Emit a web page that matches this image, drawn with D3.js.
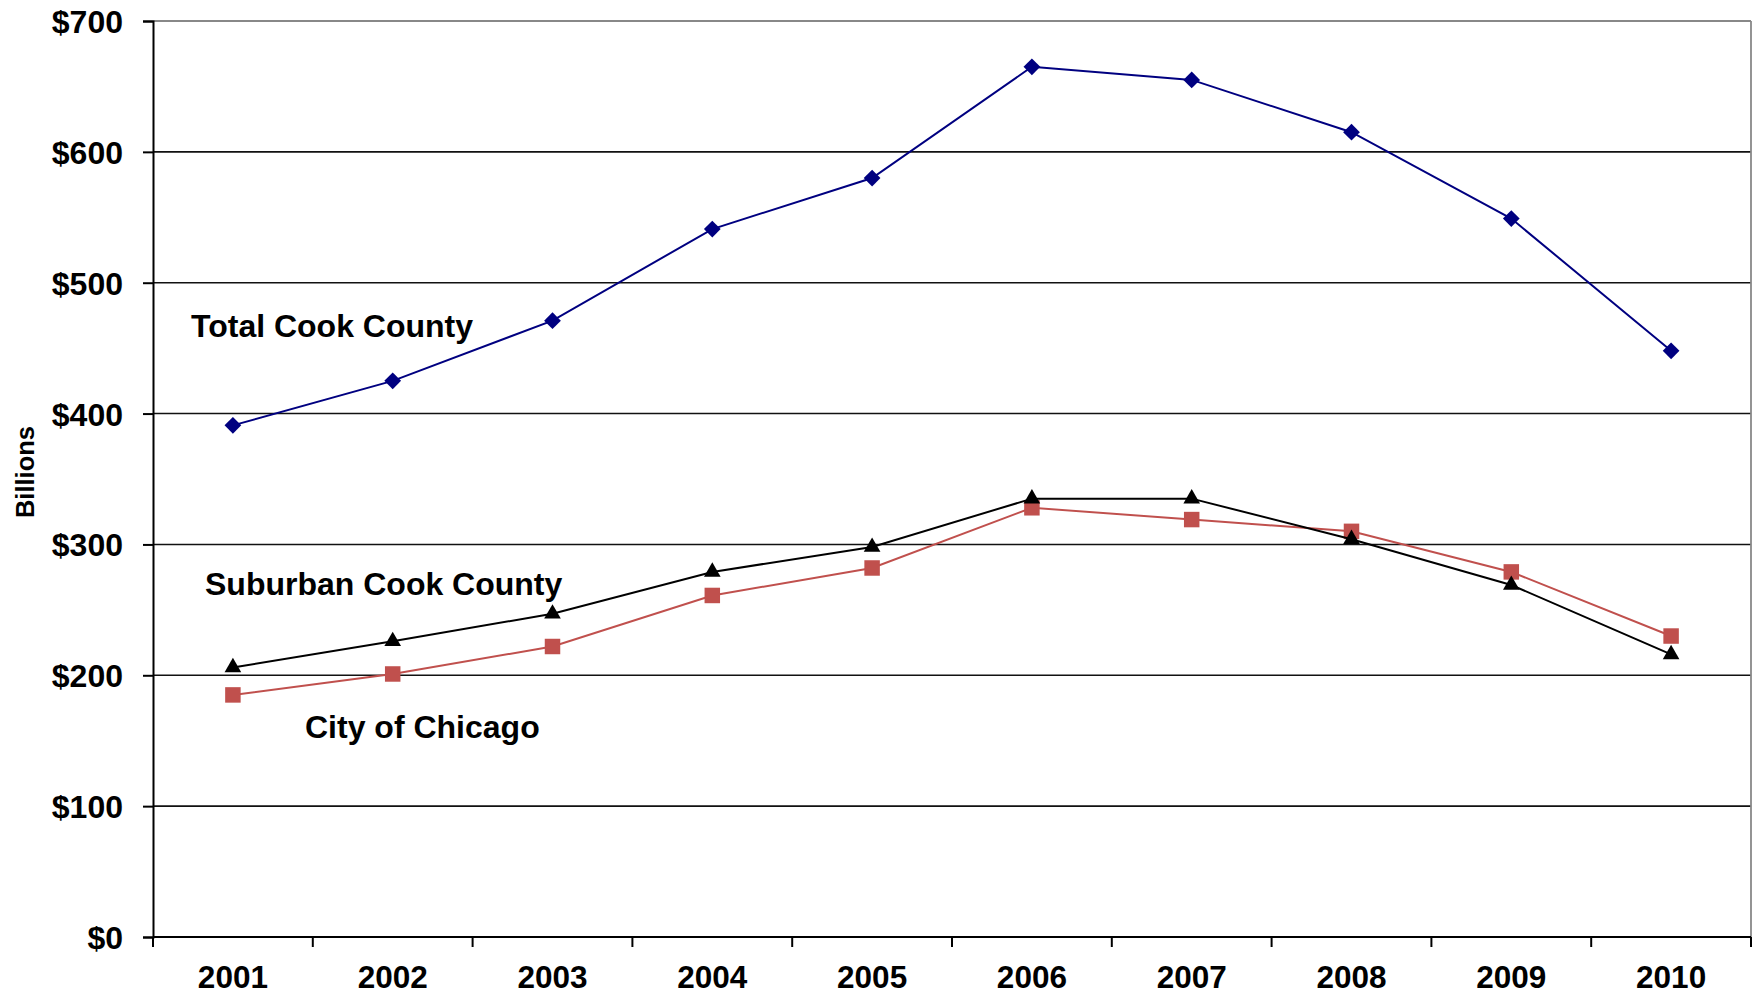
<!DOCTYPE html>
<html>
<head>
<meta charset="utf-8">
<script src="https://cdn.jsdelivr.net/npm/d3@7"></script>
<style>
  html, body { margin: 0; padding: 0; background: #fff; }
  svg { display: block; }
  text { font-family: "Liberation Sans", Arial, sans-serif; font-weight: bold; fill: #000; }
</style>
</head>
<body>
<svg id="chart" width="1752" height="997"></svg>
<script>
// ---- data ----
const years = ["2001","2002","2003","2004","2005","2006","2007","2008","2009","2010"];
const totalCook = [391, 425, 471, 541, 580, 665, 655, 615, 549, 448];
const suburbanCook = [206, 226, 247, 279, 298, 335, 335, 304, 269, 216];
const cityChicago = [185, 201, 222, 261, 282, 328, 319, 310, 279, 230];
const yTicks = [0, 100, 200, 300, 400, 500, 600, 700];
const seriesLabels = ["Total Cook County", "Suburban Cook County", "City of Chicago"];
const axisTitle = "Billions";

(function () {
// ---- layout ----
const mLeft = 153, mRight = 1751, mTop = 21, mBottom = 937;
const svg = d3.select("#chart");

const x = d3.scaleBand().domain(years).range([mLeft, mRight]).padding(0);
const y = d3.scaleLinear().domain([0, 700]).range([mBottom, mTop]);
const cx = d => x(d) + x.bandwidth() / 2;

// gridlines
svg.append("g").selectAll("line").data(yTicks.filter(t => t > 0)).join("line")
  .attr("x1", mLeft).attr("x2", mRight)
  .attr("y1", d => y(d)).attr("y2", d => y(d))
  .attr("stroke", "#111").attr("stroke-width", 1.6);

// plot area border (top/right grey)
svg.append("line").attr("x1", mLeft).attr("x2", mRight).attr("y1", y(700)).attr("y2", y(700))
  .attr("stroke", "#888").attr("stroke-width", 1.8);
svg.append("line").attr("x1", mRight).attr("x2", mRight).attr("y1", y(700)).attr("y2", y(0))
  .attr("stroke", "#888").attr("stroke-width", 1.8);

// y axis
const yAxis = d3.axisLeft(y).tickValues(yTicks).tickSize(10).tickPadding(20)
  .tickFormat(d => "$" + d);
const gy = svg.append("g").attr("transform", `translate(${mLeft},0)`).call(yAxis);
gy.select(".domain").attr("stroke", "#000").attr("stroke-width", 2);
gy.selectAll(".tick line").attr("stroke", "#000").attr("stroke-width", 2);
gy.selectAll(".tick text").attr("font-size", 32).attr("font-family", "Liberation Sans, Arial, sans-serif")
  .attr("font-weight", "bold").attr("fill", "#000").attr("dy", "0.36em");

// x axis: labels at centers, ticks at boundaries
const xAxis = d3.axisBottom(x).tickSize(0).tickPadding(30);
const gx = svg.append("g").attr("transform", `translate(0,${mBottom})`).call(xAxis);
gx.select(".domain").attr("stroke", "#000").attr("stroke-width", 2).attr("d", `M${mLeft},0H${mRight}`);
gx.selectAll(".tick text").attr("font-size", 31.5).attr("font-family", "Liberation Sans, Arial, sans-serif")
  .attr("font-weight", "bold").attr("fill", "#000").attr("dy", "0.71em").attr("y", 29);
const boundaries = years.map(d => x(d)).concat([x(years[years.length - 1]) + x.bandwidth()]);
svg.append("g").selectAll("line").data(boundaries).join("line")
  .attr("x1", d => d).attr("x2", d => d)
  .attr("y1", mBottom).attr("y2", mBottom + 10)
  .attr("stroke", "#000").attr("stroke-width", 2);

// y-axis title
svg.append("text").attr("transform", `translate(34,472) rotate(-90)`)
  .attr("text-anchor", "middle").attr("font-size", 25.5).text(axisTitle);

// series
const line = d3.line().x((d, i) => cx(years[i])).y(d => y(d));

function drawSeries(values, color, shape, size, rot) {
  svg.append("path").datum(values).attr("d", line)
    .attr("fill", "none").attr("stroke", color).attr("stroke-width", 2);
  svg.append("g").selectAll("path").data(values).join("path")
    .attr("transform", (d, i) => `translate(${cx(years[i])},${y(d)}) rotate(${rot})`)
    .attr("d", d3.symbol().type(shape).size(size))
    .attr("fill", color);
}

drawSeries(cityChicago, "#C0504D", d3.symbolSquare, 240, 0);
drawSeries(suburbanCook, "#000000", d3.symbolTriangle, 120, 0);
drawSeries(totalCook, "#000080", d3.symbolSquare, 140, 45);

// series annotations
const ann = [
  { text: seriesLabels[0], x: 191, y: 337 },
  { text: seriesLabels[1], x: 205, y: 595 },
  { text: seriesLabels[2], x: 305, y: 738 }
];
svg.append("g").selectAll("text").data(ann).join("text")
  .attr("x", d => d.x).attr("y", d => d.y).attr("font-size", 32).text(d => d.text);
})();
</script>
</body>
</html>
